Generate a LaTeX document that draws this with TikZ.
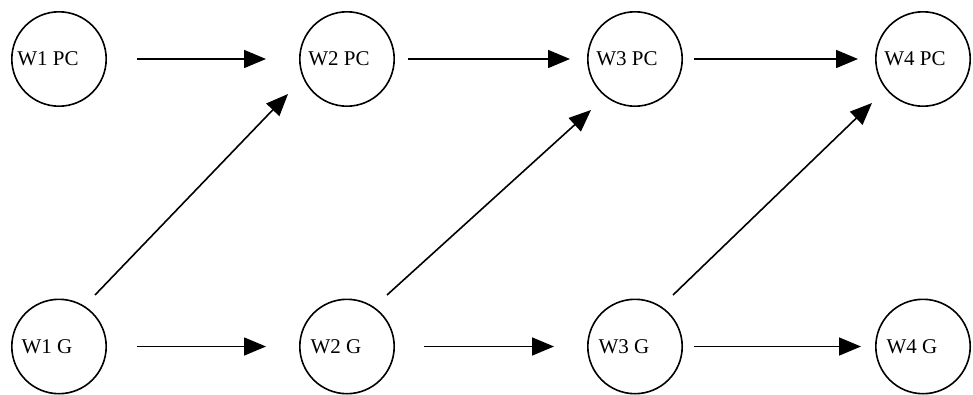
\documentclass[tikz,border=0pt]{standalone}
\usepackage{fontspec}
\setmainfont{Liberation Serif}
\usetikzlibrary{arrows.meta,calc}
\begin{document}
\begin{tikzpicture}[x=1pt,y=-1pt,
  circ/.style={draw,circle,line width=1.6pt,minimum size=94.4pt,inner sep=0pt},
  lbl/.style={inner sep=0pt,font=\fontsize{21}{24}\selectfont},
  conn/.style={line width=1.6pt,-{Triangle[length=22pt,width=18pt]}}]
\useasboundingbox (0,0) rectangle (973,394);
\node[circ] (w1pc) at (59,59) {};
\node[circ] (w2pc) at (347,59) {};
\node[circ] (w3pc) at (635,59) {};
\node[circ] (w4pc) at (923,59) {};
\node[circ] (w1g) at (59,346.5) {};
\node[circ] (w2g) at (347,346.5) {};
\node[circ] (w3g) at (635,346.5) {};
\node[circ] (w4g) at (923,346.5) {};
\node[lbl] (t1pc) at ($(w1pc)+(-11,0)$) {W1 PC};
\node[lbl] (t2pc) at ($(w2pc)+(-8,0)$) {W2 PC};
\node[lbl] (t3pc) at ($(w3pc)+(-8,0)$) {W3 PC};
\node[lbl] (t4pc) at ($(w4pc)+(-8,0)$) {W4 PC};
\node[lbl] (t1g) at ($(w1g)+(-12,0)$) {W1 G};
\node[lbl] (t2g) at ($(w2g)+(-11,0)$) {W2 G};
\node[lbl] (t3g) at ($(w3g)+(-11,0)$) {W3 G};
\node[lbl] (t4g) at ($(w4g)+(-11,0)$) {W4 G};
% horizontal connectors
\draw[conn,shorten <=30pt,shorten >=33pt] (w1pc) -- (w2pc);
\draw[conn,shorten <=13pt,shorten >=17pt] (w2pc) -- (w3pc);
\draw[conn,shorten <=11pt,shorten >=17pt] (w3pc) -- (w4pc);
\draw[conn,shorten <=30pt,shorten >=33pt] (w1g) -- (w2g);
\draw[conn,shorten <=29pt,shorten >=33pt] (w2g) -- (w3g);
\draw[conn,shorten <=11pt,shorten >=14pt] (w3g) -- (w4g);
% diagonal connectors
\draw[conn] ($(w1g)+(36,-51.5)$) -- ($(w2pc)+(-59,35)$);
\draw[conn] ($(w2g)+(40,-51.5)$) -- ($(w3pc)+(-44,51)$);
\draw[conn] ($(w3g)+(38,-51.5)$) -- ($(w4pc)+(-51,44)$);
\end{tikzpicture}
\end{document}
